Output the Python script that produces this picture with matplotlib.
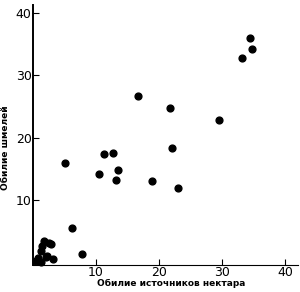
import matplotlib.pyplot as plt

# nectar abundance (x) vs bumblebee abundance (y)
nectar = [34.4, 34.8, 33.2, 16.7, 21.8, 29.5, 22.0, 18.9, 23.0,
          5.0, 11.3, 12.7, 10.5, 13.4, 13.2, 6.2, 7.7,
          1.7, 2.5, 2.9, 1.5, 1.3, 0.8, 2.0, 2.2, 3.2, 0.4, 1.3]
bumblebees = [36.0, 34.1, 32.8, 26.7, 24.8, 22.8, 18.4, 13.1, 12.0,
              16.0, 17.4, 17.5, 14.2, 14.8, 13.2, 5.5, 1.3,
              3.4, 3.2, 2.9, 2.6, 1.9, 0.7, 0.8, 1.0, 0.6, 0.2, 0.1]
xticks = [10, 20, 30, 40]
yticks = [10, 20, 30, 40]

plt.rcParams['font.family'] = ['DejaVu Sans']
fig = plt.figure(figsize=(3.0, 2.92), dpi=100)
ax = fig.add_axes([0.11, 0.0925, 0.883, 0.89])

ax.scatter(nectar, bumblebees, s=24, color="black", zorder=3, clip_on=False)

ax.set_xlim(0, 42)
ax.set_ylim(-0.4, 41.2)
ax.set_xticks(xticks)
ax.set_yticks(yticks)
ax.tick_params(direction="in", length=4, width=0.8, labelsize=9, pad=1)

for side in ("top", "right"):
    ax.spines[side].set_visible(False)
ax.spines["left"].set_linewidth(1.4)
ax.spines["bottom"].set_linewidth(0.8)

ax.set_xlabel("Обилие источников нектара", fontsize=6.5, fontweight="bold")
ax.set_ylabel("Обилие шмелей", fontsize=6.5, fontweight="bold")
ax.xaxis.set_label_coords(0.52, -0.055)
ax.yaxis.set_label_coords(-0.085, 0.45)

fig.savefig("out.png", dpi=100)
